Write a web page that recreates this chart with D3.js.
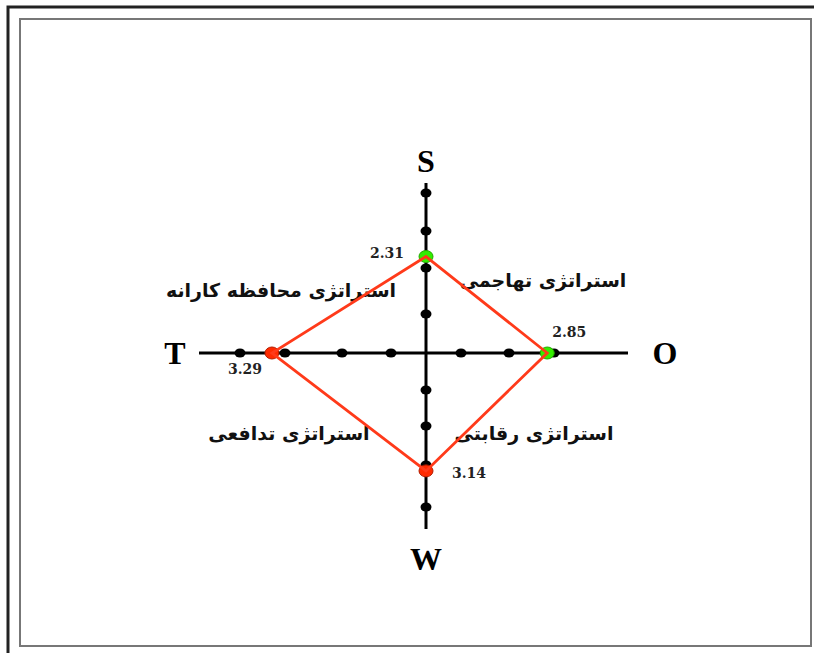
<!DOCTYPE html>
<html>
<head>
<meta charset="utf-8">
<script src="https://cdn.jsdelivr.net/npm/d3@7"></script>
<style>
  body { margin: 0; background: #fff; }
  svg { display: block; }
</style>
</head>
<body>
<div id="chart"></div>
<script>
// SWOT axes and the scores
var axisNames = ["S", "O", "W", "T"];
var axisScores = [2.31, 2.85, 3.14, 3.29];
var axisTicks = [[1, 2, 3, 4], [1, 2, 3], [1, 2, 3, 4], [1, 2, 3, 4]];
var strategyNames = ["استراتژی تهاجمی", "استراتژی رقابتی", "استراتژی تدافعی", "استراتژی محافظه کارانه"];

var width = 814, height = 653;
var cx = 426, cy = 353;

var svg = d3.select("#chart").append("svg")
    .attr("width", width)
    .attr("height", height);

// frames
svg.append("path")
    .attr("d", "M8," + height + "V7H" + width)
    .style("fill", "none")
    .style("stroke", "#222")
    .style("stroke-width", 3);
svg.append("rect")
    .attr("x", 20).attr("y", 19)
    .attr("width", 791).attr("height", 627)
    .style("fill", "none")
    .style("stroke", "#777")
    .style("stroke-width", 2);

// each arm has its own distance scale (the drawing is not evenly spaced)
var armLayout = {
  S: {dx: 0, dy: -1, len: 170, labelDist: 192, range: [0, 39, 85, 122, 160]},
  O: {dx: 1, dy: 0, len: 202, labelDist: 239, range: [0, 35, 83, 128]},
  W: {dx: 0, dy: 1, len: 176, labelDist: 206, range: [0, 37, 73, 112, 154]},
  T: {dx: -1, dy: 0, len: 227, labelDist: 251, range: [0, 35, 84, 141, 186]}
};

function armScale(name) {
  var r = armLayout[name].range;
  return d3.scaleLinear().domain(d3.range(r.length)).range(r);
}

function armPoint(name, v) {
  var a = armLayout[name];
  var d = armScale(name)(v);
  return [cx + a.dx * d, cy + a.dy * d];
}

function getPointColor(name) {
  if (name == "S" || name == "O") return "#33ee00";
  return "#ff2a00";
}

// strategy labels (drawn under the lines, like the original)
var quadrantOffset = [[117, -73], [108, 80], [-137, 80], [-145, -63]];
svg.selectAll(".strategy").data(strategyNames).enter()
  .append("text")
    .attr("class", "strategy")
    .attr("x", function(d, i) { return cx + quadrantOffset[i][0]; })
    .attr("y", function(d, i) { return cy + quadrantOffset[i][1] + 7; })
    .attr("font-family", "'DejaVu Sans', sans-serif")
    .attr("font-weight", "bold")
    .attr("font-size", "19px")
    .style("text-anchor", "middle")
    .style("fill", "#111")
    .text(function(d) { return d; });

// axis arms
axisNames.forEach(function(name) {
  var a = armLayout[name];
  svg.append("line")
    .attr("x1", cx).attr("y1", cy)
    .attr("x2", cx + a.dx * a.len).attr("y2", cy + a.dy * a.len)
    .style("stroke", "#000")
    .style("stroke-width", 3);
});

// tick dots
axisNames.forEach(function(name, i) {
  svg.selectAll(".tick" + name).data(axisTicks[i]).enter()
    .append("ellipse")
      .attr("class", "tick" + name)
      .attr("cx", function(d) { return armPoint(name, d)[0]; })
      .attr("cy", function(d) { return armPoint(name, d)[1]; })
      .attr("rx", 5.5)
      .attr("ry", 4.5)
      .style("fill", "#000");
});

// axis letters
svg.selectAll(".axisName").data(axisNames).enter()
  .append("text")
    .attr("class", "axisName")
    .attr("x", function(d) { return cx + armLayout[d].dx * armLayout[d].labelDist; })
    .attr("y", function(d) { return cy + armLayout[d].dy * armLayout[d].labelDist; })
    .attr("dy", "0.35em")
    .attr("font-family", "'Liberation Serif', serif")
    .attr("font-weight", "bold")
    .attr("font-size", "32px")
    .style("text-anchor", "middle")
    .text(function(d) { return d; });

// score polygon
var polyPoints = axisNames.map(function(name, i) { return armPoint(name, axisScores[i]); });

svg.selectAll(".scorePoint").data(axisNames).enter()
  .append("ellipse")
    .attr("class", "scorePoint")
    .attr("cx", function(d, i) { return polyPoints[i][0]; })
    .attr("cy", function(d, i) { return polyPoints[i][1]; })
    .attr("rx", 7)
    .attr("ry", 6)
    .style("fill", function(d) { return getPointColor(d); })
    .style("stroke", function(d) { return d3.color(getPointColor(d)).darker(1); })
    .style("stroke-width", 1);

// polygon edges drawn on top of the markers
svg.append("path")
    .attr("d", d3.line()(polyPoints) + "Z")
    .style("fill", "none")
    .style("stroke", "#ff3a1a")
    .style("stroke-width", 2.8);

// score labels
var scoreOffset = [[-22, 1, "end"], [22, -16, "middle"], [26, 7, "start"], [-27, 21, "middle"]];
svg.selectAll(".score").data(axisScores).enter()
  .append("text")
    .attr("class", "score")
    .attr("x", function(d, i) { return polyPoints[i][0] + scoreOffset[i][0]; })
    .attr("y", function(d, i) { return polyPoints[i][1] + scoreOffset[i][1]; })
    .attr("font-family", "'DejaVu Serif', serif")
    .attr("font-weight", "bold")
    .attr("font-size", "14px")
    .style("text-anchor", function(d, i) { return scoreOffset[i][2]; })
    .style("fill", "#222")
    .text(function(d) { return d.toFixed(2); });
</script>
</body>
</html>
